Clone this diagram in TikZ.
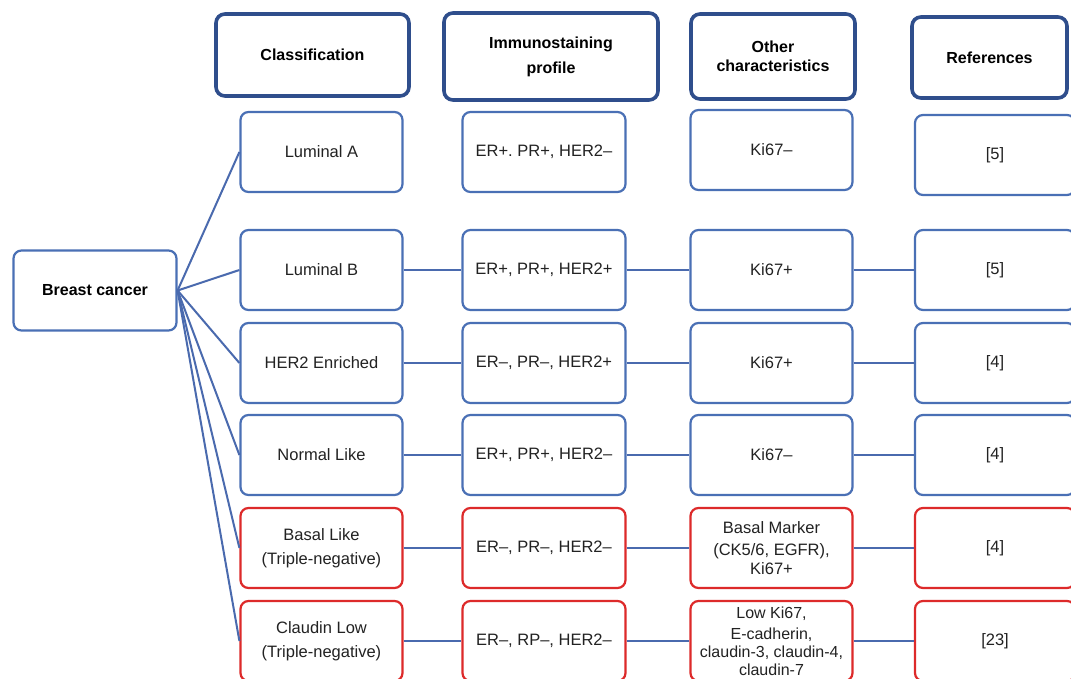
\documentclass[tikz,border=0pt]{standalone}
\usepackage{fontspec}
\setmainfont{Liberation Sans}
\frenchspacing
\definecolor{hdrblue}{HTML}{2F4E8C}
\definecolor{boxblue}{HTML}{4A70B5}
\definecolor{boxred}{HTML}{DD2A2A}
\definecolor{lineblue}{HTML}{4A6AAE}
\definecolor{txt}{HTML}{222222}
\begin{document}
\begin{tikzpicture}[x=1pt,y=-1pt,
  hdr/.style={draw=hdrblue, line width=3.6pt, rounded corners=9pt, fill=white, align=center,
    inner sep=0pt, text=black, font=\fontsize{16}{19}\selectfont\bfseries},
  cell/.style={draw=boxblue, line width=2.2pt, rounded corners=8pt, fill=white, align=center,
    inner sep=0pt, minimum height=80pt, text=txt, font=\fontsize{16.5}{24}\selectfont},
  cellA/.style={cell, minimum width=162pt},
  cellB/.style={cell, minimum width=163pt},
  cellC/.style={cell, minimum width=162pt},
  cellD/.style={cell, minimum width=160pt},
  red/.style={draw=boxred},
  conn/.style={draw=lineblue, line width=2pt}
]
\useasboundingbox (0,0) rectangle (1071,678);
\fill[white] (0,0) rectangle (1071,678);

% headers
\node[hdr, minimum width=193pt, minimum height=82pt] (h1) at (312.5,55) {Classification};
\node[hdr, minimum width=214pt, minimum height=87pt] (h2) at (551,56.5) {Immunostaining\\[6pt]profile};
\node[hdr, minimum width=164pt, minimum height=85pt] (h3) at (773,56.5) {Other\\characteristics};
\node[hdr, minimum width=155pt, minimum height=81pt] (h4) at (989.5,57.5) {References};

% breast cancer
\node[cell, minimum width=163pt, text=black, font=\fontsize{16}{20}\selectfont\bfseries] (bc) at (95,290.5) {Breast cancer};

% row 1
\node[cellA] (c1) at (321.5,152) {Luminal A};
\node[cellB] (i1) at (544,152) {ER+. PR+, HER2–};
\node[cellC] (o1) at (771.5,150) {Ki67–};
\node[cellD] (r1) at (995,155) {[5]};

% row 2
\node[cellA] (c2) at (321.5,270) {Luminal B};
\node[cellB] (i2) at (544,270) {ER+, PR+, HER2+};
\node[cellC] (o2) at (771.5,270) {Ki67+};
\node[cellD] (r2) at (995,270) {[5]};

% row 3
\node[cellA] (c3) at (321.5,363) {HER2 Enriched};
\node[cellB] (i3) at (544,363) {ER–, PR–, HER2+};
\node[cellC] (o3) at (771.5,363) {Ki67+};
\node[cellD] (r3) at (995,363) {[4]};

% row 4
\node[cellA] (c4) at (321.5,455) {Normal Like};
\node[cellB] (i4) at (544,455) {ER+, PR+, HER2–};
\node[cellC] (o4) at (771.5,455) {Ki67–};
\node[cellD] (r4) at (995,455) {[4]};

% row 5
\node[cellA, red] (c5) at (321.5,548) {Basal Like\\(Triple-negative)};
\node[cellB, red] (i5) at (544,548) {ER–, PR–, HER2–};
\node[cellC, red, font=\fontsize{16.5}{22}\selectfont] (o5) at (771.5,548) {Basal Marker\\(CK5/6, EGFR),\\[-3pt]Ki67+};
\node[cellD, red] (r5) at (995,548) {[4]};

% row 6
\node[cellA, red] (c6) at (321.5,641) {Claudin Low\\(Triple-negative)};
\node[cellB, red] (i6) at (544,641) {ER–, RP–, HER2–};
\node[cellC, red, font=\fontsize{16}{18}\selectfont] (o6) at (771.5,641) {Low Ki67,\\[3pt]E-cadherin,\\claudin-3, claudin-4,\\claudin-7};
\node[cellD, red] (r6) at (995,641) {[23]};

% fan connectors
\foreach \n in {1,...,6} {
  \draw[conn] (bc.east) -- (c\n.west);
}
% row connectors
\foreach \n in {2,...,6} {
  \draw[conn] (c\n.east) -- (i\n.west);
  \draw[conn] (i\n.east) -- (o\n.west);
  \draw[conn] (o\n.east) -- (r\n.west);
}
\end{tikzpicture}
\end{document}
